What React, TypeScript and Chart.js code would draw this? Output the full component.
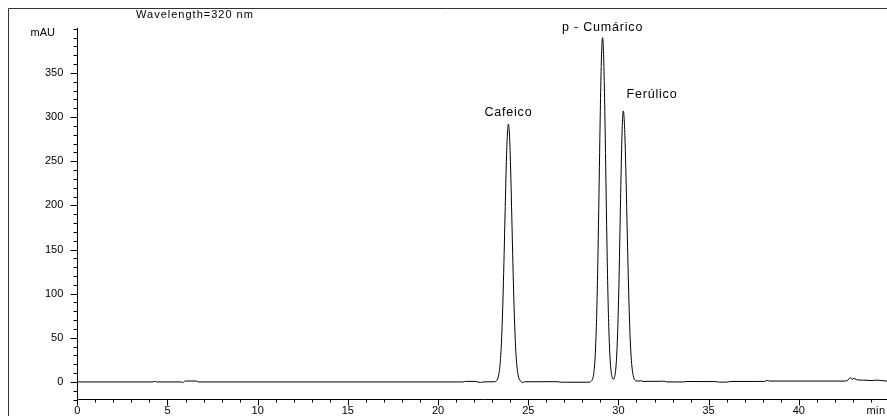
import React, { useEffect, useRef } from "react";
import { Chart, registerables } from "chart.js";

Chart.register(...registerables);

// Retention time (min) and absorbance (mAU)
const retentionTimes: number[] = [
  0, 4.2, 4.3, 4.4, 5.8, 5.85, 5.9, 6.0, 6.6, 6.7, 21.4, 21.5, 22.1, 22.2, 22.35, 22.5, 23.15,
  23.2, 23.25, 23.3, 23.35, 23.4, 23.45, 23.5, 23.55, 23.6, 23.65, 23.7, 23.75, 23.8, 23.85,
  23.9, 23.95, 24.0, 24.05, 24.1, 24.15, 24.2, 24.25, 24.3, 24.35, 24.4, 24.45, 24.5, 24.55,
  24.6, 24.7, 24.8, 26.6, 26.8, 28.4, 28.47,
  28.52, 28.57, 28.62, 28.67, 28.72, 28.77, 28.82, 28.87, 28.92, 28.97, 29.02, 29.07, 29.12,
  29.17, 29.22, 29.27, 29.32, 29.37, 29.42, 29.47, 29.52, 29.57, 29.62, 29.67, 29.72, 29.77,
  29.82, 29.87, 29.92, 29.97, 30.02, 30.07, 30.12, 30.17, 30.22, 30.27, 30.32, 30.37, 30.42,
  30.47, 30.52, 30.57, 30.62, 30.67, 30.72, 30.77, 30.82, 30.87, 30.92, 30.97,
  31.1, 31.3, 31.35, 32.5, 32.7, 33.6, 33.8, 35.4, 35.6, 36.0, 36.2, 38.1, 38.25, 38.4,
  42.6, 42.75, 42.85, 42.95, 43.05, 43.2, 43.6, 44.0, 44.3, 44.6, 45,
];

const absorbance: number[] = [
  0, 0, 0.8, 0, 0, -1, 0, 1, 1, 0, 0, 0.6, 0.6, 0, -0.6, 0, 0.3,
  0.6, 1.5, 3.2, 6.7, 12.8, 23, 39, 63, 95, 134, 177, 220, 258, 283,
  292, 283, 258, 220, 177, 134, 95, 63, 39, 23, 12.8, 6.7, 3.2, 1.5,
  0.6, -0.8, 0.2, 0.3, -0.3, -0.3, 0.4,
  1.5, 3.5, 8, 17, 33, 59, 97, 149, 210, 276, 334, 375, 390,
  375, 334, 276, 210, 149, 97, 59, 33, 17, 8.3, 4.2, 3, 4.5,
  9, 19, 37, 65, 104, 154, 208, 258, 294, 307, 297, 271, 232,
  186, 141, 100, 66, 41, 24, 13.5, 7, 3.4, 1.8, 1.2,
  1, 1.3, 0.6, 0.8, 0, 0, 0.5, 0.4, -0.2, -0.2, 0.5, 0.6, 1.8, 1,
  1, 2.5, 5, 3, 4, 2.5, 2, 1.6, 2, 1.5, 0.8,
];

const peakNames: string[] = ["Cafeico", "p - Cumárico", "Ferúlico"];
const peakLabelTimes: number[] = [23.9, 29.12, 31.86];
const peakLabelValues: number[] = [305, 401, 326];

const xMajorLabels: number[] = [0, 5, 10, 15, 20, 25, 30, 35, 40];
const yMajorLabels: number[] = [0, 50, 100, 150, 200, 250, 300, 350];

const FONT = '"Liberation Sans", Arial, sans-serif';

const decorPlugin = {
  id: "decor",
  afterDraw(chart: any) {
    const ctx = chart.ctx as CanvasRenderingContext2D;
    const xs = chart.scales.x;
    const ys = chart.scales.y;
    const area = chart.chartArea;
    ctx.save();
    // outer frame
    ctx.strokeStyle = "#333";
    ctx.lineWidth = 1;
    ctx.beginPath();
    ctx.moveTo(8.5, 416);
    ctx.lineTo(8.5, 8.5);
    ctx.lineTo(887, 8.5);
    ctx.stroke();

    // ticks
    ctx.strokeStyle = "#000";
    ctx.beginPath();
    const yLeft = Math.round(area.left) + 0.5;
    ys.ticks.forEach((t: any) => {
      const py = Math.round(ys.getPixelForValue(t.value)) + 0.5;
      const major = yMajorLabels.includes(t.value);
      const len = major ? 7 : 4;
      ctx.moveTo(yLeft - len, py);
      ctx.lineTo(yLeft, py);
    });
    const xBottom = Math.round(area.bottom) - 0.5;
    xs.ticks.forEach((t: any) => {
      const px = Math.round(xs.getPixelForValue(t.value)) + 0.5;
      const major = xMajorLabels.includes(t.value);
      const len = major ? 6 : 3;
      ctx.moveTo(px, xBottom);
      ctx.lineTo(px, xBottom + len);
    });
    ctx.stroke();

    // texts
    ctx.fillStyle = "#000";
    ctx.font = `11px ${FONT}`;
    ctx.textBaseline = "middle";
    ctx.textAlign = "center";
    (ctx as any).letterSpacing = "1px";
    ctx.fillText("Wavelength=320 nm", 195, 15);
    (ctx as any).letterSpacing = "0px";
    ctx.textAlign = "right";
    ctx.fillText("mAU", 55, 33);
    ctx.textAlign = "center";
    (ctx as any).letterSpacing = "0.5px";
    ctx.fillText("min", 876, 411);

    ctx.font = `12.5px ${FONT}`;
    (ctx as any).letterSpacing = "0.8px";
    peakNames.forEach((name, i) => {
      const px = xs.getPixelForValue(peakLabelTimes[i]);
      const py = ys.getPixelForValue(peakLabelValues[i]);
      ctx.fillText(name, px, py);
    });
    ctx.restore();
  },
};

export default function App() {
  const canvasRef = useRef<HTMLCanvasElement | null>(null);

  useEffect(() => {
    const canvas = canvasRef.current;
    if (!canvas) return;
    const points = retentionTimes.map((t, i) => ({ x: t, y: absorbance[i] }));
    const chart = new Chart(canvas, {
      type: "scatter",
      data: {
        datasets: [
          {
            data: points,
            showLine: true,
            borderColor: "#000",
            borderWidth: 1,
            pointRadius: 0,
            pointHoverRadius: 0,
            cubicInterpolationMode: "monotone",
          },
        ],
      },
      options: {
        responsive: false,
        animation: false,
        events: [],
        layout: { padding: { top: 28.8, right: 1, left: 0, bottom: 0 } },
        plugins: {
          legend: { display: false },
          tooltip: { enabled: false },
          title: { display: false },
        },
        scales: {
          x: {
            type: "linear",
            min: 0,
            max: 45,
            afterFit: (s: any) => {
              s.height = 16.4;
            },
            grid: {
              drawOnChartArea: false,
              drawTicks: true,
              tickLength: 5,
              tickColor: "rgba(0,0,0,0)",
            },
            border: { display: true, color: "#000", width: 1 },
            ticks: {
              stepSize: 1,
              autoSkip: false,
              maxRotation: 0,
              padding: 0,
              color: "#000",
              font: { family: FONT, size: 11 },
              callback: (v: any) => (xMajorLabels.includes(Number(v)) ? String(v) : ""),
            },
          },
          y: {
            type: "linear",
            min: -20,
            max: 400,
            afterFit: (s: any) => {
              s.width = 77.3;
            },
            grid: {
              drawOnChartArea: false,
              drawTicks: true,
              tickLength: 7,
              tickColor: "rgba(0,0,0,0)",
            },
            border: { display: true, color: "#000", width: 1 },
            ticks: {
              stepSize: 10,
              autoSkip: false,
              padding: 7,
              color: "#000",
              font: { family: FONT, size: 11 },
              callback: (v: any) => (yMajorLabels.includes(Number(v)) ? String(v) : ""),
            },
          },
        },
      },
      plugins: [decorPlugin],
    });
    return () => chart.destroy();
  }, []);

  return (
    <div
      style={{
        position: "fixed",
        left: 0,
        top: 0,
        width: 887,
        height: 416,
        overflow: "hidden",
        background: "#fff",
      }}
    >
      <canvas ref={canvasRef} width={890} height={416} style={{ display: "block" }} />
    </div>
  );
}
